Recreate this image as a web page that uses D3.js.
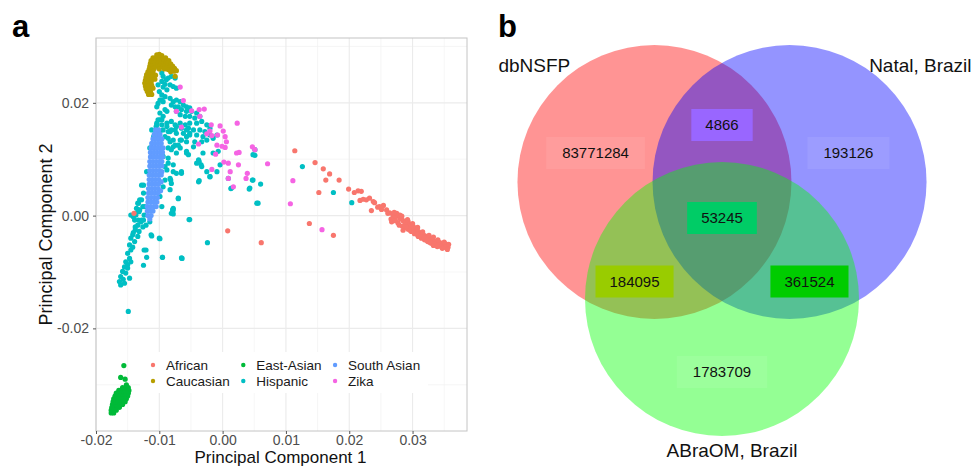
<!DOCTYPE html>
<html>
<head>
<meta charset="utf-8">
<script src="https://cdn.jsdelivr.net/npm/d3@7"></script>
<style>
  body { margin: 0; background: #fff; }
  svg { display: block; font-family: "Liberation Sans", Arial, Helvetica, sans-serif; }
</style>
</head>
<body>
<svg id="chart" width="974" height="467"></svg>
<script>
// ---------- panel a data (PC1, PC2) ----------
var groups = ["African", "Caucasian", "East-Asian", "Hispanic", "South Asian", "Zika"];
var groupColors = ["#F8766D", "#B79F00", "#00BA38", "#00BFC4", "#619CFF", "#F564E3"];
var xTicks = [-0.02, -0.01, 0.00, 0.01, 0.02, 0.03];
var xTickLabels = ["-0.02", "-0.01", "0.00", "0.01", "0.02", "0.03"];
var yTicks = [-0.02, 0.00, 0.02];
var yTickLabels = ["-0.02", "0.00", "0.02"];

var african = [
  [0.0114,0.0115],[0.0146,0.0094],[0.0159,0.0083],[0.0169,0.0074],[0.0184,0.0063],[0.0163,0.0063],
  [0.0152,0.0041],[0.0199,0.0047],[0.0137,-0.0014],[0.0175,-0.0035],[0.0008,-0.0027],[0.0061,-0.0048],
  [-0.0140,0.0004],
  [0.0208,0.0041],[0.0214,0.0044],[0.0219,0.0043],[0.0217,0.0027],[0.0222,0.0029],[0.0232,0.0031],
  [0.0238,0.0025],[0.0235,0.0009],[0.0245,0.0015],[0.0251,0.0011],[0.0254,0.0018],[0.0259,0.0010],
  [0.0264,0.0005],[0.0269,0.0001],[0.0267,-0.0011],[0.0274,-0.0001],[0.0280,-0.0005],[0.0277,-0.0013],
  [0.0285,-0.0009],[0.0290,-0.0012],[0.0288,-0.0019],[0.0285,-0.0026],[0.0295,-0.0016],[0.0293,-0.0024],
  [0.0301,-0.0019],[0.0298,-0.0028],[0.0306,-0.0025],[0.0303,-0.0032],[0.0311,-0.0030],[0.0309,-0.0037],
  [0.0317,-0.0034],[0.0314,-0.0040],[0.0322,-0.0037],[0.0319,-0.0043],[0.0327,-0.0040],[0.0324,-0.0046],
  [0.0332,-0.0043],[0.0330,-0.0049],[0.0338,-0.0046],[0.0340,-0.0050],[0.0345,-0.0049],[0.0348,-0.0052],
  [0.0352,-0.0050],[0.0354,-0.0054],[0.0356,-0.0056],
  [0.0282,-0.0006],[0.0288,-0.0013],[0.0293,-0.0010],[0.0298,-0.0016],[0.0303,-0.0022],[0.0309,-0.0028],
  [0.0314,-0.0032],[0.0319,-0.0036],[0.0324,-0.0040],[0.0330,-0.0043],[0.0335,-0.0046],[0.0343,-0.0048],
  [0.0349,-0.0052],[0.0353,-0.0056],[0.0298,-0.0022],[0.0305,-0.0028],[0.0311,-0.0034],[0.0321,-0.0040],
  [0.0327,-0.0046],[0.0334,-0.0050],[0.0343,-0.0054],[0.0351,-0.0056],
  [0.0261,0.0004],[0.0272,-0.0003],[0.0280,0.0001],[0.0248,0.0016],[0.0240,0.0023],[0.0227,0.0028],
  [0.0290,-0.0021],[0.0296,-0.0026],[0.0302,-0.0029],[0.0307,-0.0033],[0.0313,-0.0037],[0.0318,-0.0040],
  [0.0323,-0.0044],[0.0328,-0.0048],[0.0333,-0.0053],[0.0339,-0.0055],[0.0347,-0.0058],[0.0355,-0.0060],
  [0.0357,-0.0051],[0.0350,-0.0047],[0.0340,-0.0043],[0.0333,-0.0038],[0.0326,-0.0035],[0.0316,-0.0029],
  [0.0308,-0.0021],[0.0300,-0.0014],[0.0292,-0.0007],[0.0283,-0.0001],[0.0275,0.0004],[0.0266,-0.0006],
  [0.0273,-0.0009],[0.0279,-0.0017],[0.0284,-0.0019],[0.0271,0.0006]
];

var caucasian = [
  [-0.0104,0.0285],[-0.0100,0.0286],[-0.0096,0.0284],
  [-0.0110,0.0280],[-0.0106,0.0280],[-0.0102,0.0281],[-0.0098,0.0280],[-0.0094,0.0279],[-0.0090,0.0280],
  [-0.0113,0.0275],[-0.0109,0.0276],[-0.0105,0.0275],[-0.0101,0.0275],[-0.0097,0.0276],[-0.0093,0.0275],
  [-0.0089,0.0274],[-0.0085,0.0275],
  [-0.0114,0.0270],[-0.0110,0.0270],[-0.0106,0.0271],[-0.0102,0.0270],[-0.0098,0.0270],[-0.0094,0.0269],
  [-0.0090,0.0270],[-0.0086,0.0270],[-0.0082,0.0269],
  [-0.0115,0.0265],[-0.0111,0.0265],[-0.0107,0.0266],[-0.0103,0.0265],[-0.0099,0.0265],[-0.0095,0.0264],
  [-0.0091,0.0265],[-0.0087,0.0265],[-0.0083,0.0264],[-0.0079,0.0265],
  [-0.0116,0.0260],[-0.0112,0.0260],[-0.0108,0.0261],[-0.0100,0.0260],[-0.0092,0.0260],[-0.0086,0.0259],
  [-0.0080,0.0260],[-0.0076,0.0261],
  [-0.0118,0.0255],[-0.0114,0.0255],[-0.0110,0.0256],[-0.0082,0.0255],[-0.0077,0.0256],
  [-0.0120,0.0250],[-0.0115,0.0250],[-0.0110,0.0251],[-0.0106,0.0249],
  [-0.0121,0.0245],[-0.0116,0.0245],[-0.0111,0.0246],
  [-0.0122,0.0240],[-0.0117,0.0240],[-0.0112,0.0241],[-0.0107,0.0242],
  [-0.0123,0.0235],[-0.0118,0.0235],[-0.0113,0.0236],
  [-0.0122,0.0230],[-0.0117,0.0230],[-0.0112,0.0231],
  [-0.0121,0.0225],[-0.0116,0.0225],[-0.0110,0.0226],
  [-0.0119,0.0220],[-0.0114,0.0220],[-0.0117,0.0215],[-0.0112,0.0215],
  [-0.0073,0.0257],[-0.0075,0.0247]
];

var eastAsian = [
  [-0.0156,-0.0266],[-0.0161,-0.0287],[-0.0154,-0.0290],[-0.0152,-0.0300],
  [-0.0158,-0.0305],[-0.0153,-0.0305],[-0.0149,-0.0305],
  [-0.0164,-0.0310],[-0.0160,-0.0310],[-0.0156,-0.0310],[-0.0152,-0.0310],[-0.0148,-0.0310],
  [-0.0168,-0.0315],[-0.0164,-0.0315],[-0.0160,-0.0315],[-0.0156,-0.0315],[-0.0152,-0.0315],[-0.0149,-0.0315],
  [-0.0170,-0.0320],[-0.0166,-0.0320],[-0.0162,-0.0320],[-0.0158,-0.0320],[-0.0154,-0.0320],[-0.0150,-0.0320],
  [-0.0172,-0.0325],[-0.0168,-0.0325],[-0.0164,-0.0325],[-0.0160,-0.0325],[-0.0156,-0.0325],[-0.0152,-0.0325],
  [-0.0173,-0.0330],[-0.0169,-0.0330],[-0.0165,-0.0330],[-0.0161,-0.0330],[-0.0157,-0.0330],[-0.0154,-0.0330],
  [-0.0174,-0.0335],[-0.0170,-0.0335],[-0.0166,-0.0335],[-0.0162,-0.0335],[-0.0158,-0.0335],
  [-0.0175,-0.0340],[-0.0171,-0.0340],[-0.0167,-0.0340],[-0.0163,-0.0340],
  [-0.0176,-0.0345],[-0.0172,-0.0345],[-0.0168,-0.0345],[-0.0176,-0.0350],[-0.0172,-0.0350]
];

var hispanic = [
  // upper arc below the Caucasian cluster
  [-0.0096,0.0253],[-0.0094,0.0247],[-0.0089,0.0241],[-0.0086,0.0244],[-0.0081,0.0247],[-0.0075,0.0244],
  [-0.0096,0.0238],[-0.0091,0.0233],[-0.0083,0.0232],[-0.0078,0.0229],[-0.0073,0.0226],[-0.0088,0.0223],
  [-0.0096,0.0214],[-0.0091,0.0211],[-0.0099,0.0205],[-0.0102,0.0199],[-0.0094,0.0202],[-0.0083,0.0208],
  [-0.0078,0.0202],[-0.0073,0.0205],[-0.0067,0.0202],[-0.0081,0.0196],[-0.0075,0.0193],[-0.0070,0.0193],
  [-0.0062,0.0196],[-0.0057,0.0193],[-0.0052,0.0191],[-0.0065,0.0188],[-0.0057,0.0185],[-0.0049,0.0185],
  [-0.0041,0.0182],[-0.0073,0.0185],[-0.0067,0.0179],[-0.0059,0.0176],[-0.0052,0.0176],[-0.0044,0.0173],
  [-0.0036,0.0176],[-0.0088,0.0185],[-0.0094,0.0176],[-0.0099,0.0170],[-0.0104,0.0161],[-0.0096,0.0161],
  [-0.0088,0.0164],[-0.0081,0.0167],[-0.0075,0.0161],[-0.0067,0.0164],[-0.0059,0.0161],[-0.0052,0.0164],
  [-0.0041,0.0164],[-0.0033,0.0167],[-0.0025,0.0161],[-0.0020,0.0155],[-0.0054,0.0155],[-0.0046,0.0152],
  [-0.0036,0.0152],[-0.0028,0.0149],[-0.0094,0.0152],[-0.0102,0.0149],[-0.0083,0.0149],[-0.0073,0.0146],
  [-0.0062,0.0146],[-0.0052,0.0143],[-0.0041,0.0143],[-0.0031,0.0140],[-0.0020,0.0143],[-0.0086,0.0137],
  [-0.0078,0.0134],[-0.0067,0.0134],[-0.0057,0.0131],[-0.0044,0.0131],[-0.0033,0.0131],[-0.0025,0.0134],
  [-0.0015,0.0137],[-0.0009,0.0143],
  [-0.0102,0.0232],[-0.0100,0.0220],[-0.0094,0.0228],[-0.0096,0.0205],[-0.0104,0.0193],[-0.0099,0.0182],
  [-0.0091,0.0188],[-0.0102,0.0170],[-0.0105,0.0158],
  // around the top of the South Asian column
  [-0.0104,0.0164],[-0.0096,0.0170],[-0.0088,0.0158],[-0.0081,0.0152],[-0.0073,0.0158],[-0.0065,0.0155],
  [-0.0057,0.0152],[-0.0099,0.0149],[-0.0091,0.0140],[-0.0083,0.0131],[-0.0075,0.0125],[-0.0067,0.0120],
  [-0.0081,0.0117],[-0.0086,0.0102],[-0.0078,0.0090],[-0.0073,0.0075],[-0.0088,0.0081],[-0.0091,0.0063],
  [-0.0083,0.0046],[-0.0125,0.0054],[-0.0131,0.0028],[-0.0133,0.0010],[-0.0141,-0.0002],[-0.0128,-0.0008],
  [-0.0112,0.0152],[-0.0109,0.0140],[-0.0115,0.0120],
  // middle of the plot
  [-0.0086,0.0120],[-0.0078,0.0122],[-0.0070,0.0125],[-0.0065,0.0134],[-0.0057,0.0140],[-0.0073,0.0111],
  [-0.0057,0.0114],[-0.0054,0.0108],[-0.0046,0.0122],[-0.0031,0.0111],[-0.0015,0.0111],[-0.0007,0.0114],
  [-0.0041,0.0093],[-0.0038,0.0099],[-0.0033,0.0087],[-0.0025,0.0078],[-0.0009,0.0078],[-0.0065,0.0078],
  [-0.0078,0.0078],[-0.0083,0.0066],[-0.0081,0.0057],[-0.0086,0.0093],[-0.0038,0.0060],[-0.0020,0.0069],
  [-0.0120,0.0078],[-0.0128,0.0054],[-0.0125,0.0040],[-0.0128,0.0028],[-0.0133,0.0022],[-0.0136,0.0013],
  [-0.0138,0.0004],[-0.0131,0.0010],[-0.0123,0.0016],[-0.0125,-0.0008],[-0.0133,-0.0008],[-0.0138,-0.0020],
  [-0.0115,-0.0011],[-0.0070,0.0031],[-0.0078,0.0013],[-0.0081,0.0004],[-0.0052,-0.0007],[-0.0004,0.0090],
  [0.0014,0.0049],[0.0043,0.0049],[0.0048,0.0063],[0.0054,0.0022],[0.0048,0.0108],[0.0051,0.0117],
  [-0.0052,0.0146],[-0.0075,0.0152],[-0.0086,0.0149],
  [-0.0094,0.0105],[-0.0091,0.0087],[-0.0094,0.0051],[-0.0099,0.0034],[-0.0096,0.0016],
  [0.0051,0.0107],[0.0126,0.0087],[0.0175,0.0041],[0.0204,0.0023],[0.0060,0.0056],[0.0056,0.0022],
  [0.0042,0.0047],[0.0013,0.0048],[0.0009,0.0066],[0.0047,0.0063],[-0.0053,-0.0007],[-0.0024,-0.0048],
  [-0.0065,-0.0075],[-0.0095,-0.0074],[-0.0099,-0.0041],[-0.0112,-0.0036],[-0.0078,0.0010],[-0.0070,0.0030],
  [-0.0037,0.0062],[-0.0020,0.0069],[-0.0065,0.0075],[-0.0082,0.0063],[-0.0057,0.0111],[-0.0037,0.0096],
  [-0.0034,0.0090],
  // lower-left tail
  [-0.0134,0.0022],[-0.0126,0.0016],[-0.0132,0.0007],[-0.0124,0.0001],[-0.0137,0.0001],[-0.0139,-0.0008],
  [-0.0129,-0.0011],[-0.0134,-0.0017],[-0.0121,-0.0017],[-0.0138,-0.0025],[-0.0132,-0.0028],[-0.0142,-0.0034],
  [-0.0145,-0.0040],[-0.0134,-0.0037],[-0.0139,-0.0046],[-0.0147,-0.0052],[-0.0145,-0.0061],[-0.0150,-0.0067],
  [-0.0147,-0.0076],[-0.0153,-0.0082],[-0.0145,-0.0082],[-0.0155,-0.0091],[-0.0150,-0.0093],[-0.0158,-0.0099],
  [-0.0153,-0.0102],[-0.0161,-0.0108],[-0.0147,-0.0111],[-0.0163,-0.0117],[-0.0155,-0.0120],[-0.0161,-0.0123],
  [-0.0113,-0.0034],[-0.0100,-0.0040],[-0.0124,-0.0061],[-0.0121,-0.0061],[-0.0120,-0.0074],[-0.0125,-0.0088],
  [-0.0095,-0.0074],[-0.0064,-0.0076],[-0.0079,0.0010],[-0.0078,0.0003],[-0.0149,-0.0170],[-0.0145,0.0001],
  [-0.0126,-0.0020],[-0.0142,-0.0056],[-0.0150,-0.0087],[-0.0157,-0.0113],[-0.0141,-0.0030]
];

var southAsian = [
  [-0.0106,0.0152],[-0.0101,0.0152],
  [-0.0108,0.0144],[-0.0103,0.0144],[-0.0099,0.0144],
  [-0.0110,0.0136],[-0.0105,0.0136],[-0.0100,0.0136],[-0.0096,0.0136],
  [-0.0112,0.0128],[-0.0107,0.0128],[-0.0102,0.0128],[-0.0097,0.0128],
  [-0.0113,0.0120],[-0.0108,0.0120],[-0.0103,0.0120],[-0.0098,0.0120],[-0.0094,0.0120],
  [-0.0114,0.0112],[-0.0109,0.0112],[-0.0104,0.0112],[-0.0099,0.0112],[-0.0095,0.0112],
  [-0.0114,0.0104],[-0.0109,0.0104],[-0.0104,0.0104],[-0.0099,0.0104],[-0.0095,0.0104],
  [-0.0115,0.0096],[-0.0110,0.0096],[-0.0105,0.0096],[-0.0100,0.0096],[-0.0096,0.0096],
  [-0.0115,0.0088],[-0.0110,0.0088],[-0.0105,0.0088],[-0.0100,0.0088],[-0.0096,0.0088],
  [-0.0115,0.0080],[-0.0110,0.0080],[-0.0105,0.0080],[-0.0100,0.0080],[-0.0096,0.0078],
  [-0.0116,0.0072],[-0.0111,0.0072],[-0.0106,0.0072],[-0.0101,0.0072],[-0.0097,0.0072],
  [-0.0116,0.0064],[-0.0111,0.0064],[-0.0106,0.0064],[-0.0101,0.0064],[-0.0097,0.0060],
  [-0.0116,0.0056],[-0.0111,0.0056],[-0.0106,0.0056],[-0.0101,0.0056],
  [-0.0117,0.0048],[-0.0112,0.0048],[-0.0107,0.0048],[-0.0102,0.0048],[-0.0098,0.0044],
  [-0.0117,0.0040],[-0.0112,0.0040],[-0.0107,0.0040],[-0.0102,0.0040],
  [-0.0118,0.0032],[-0.0113,0.0032],[-0.0108,0.0032],[-0.0103,0.0032],
  [-0.0118,0.0024],[-0.0113,0.0024],[-0.0108,0.0024],[-0.0104,0.0024],
  [-0.0119,0.0016],[-0.0114,0.0016],[-0.0109,0.0016],[-0.0105,0.0016],
  [-0.0119,0.0008],[-0.0114,0.0008],[-0.0110,0.0008],
  [-0.0118,0.0000],[-0.0113,0.0000],[-0.0115,-0.0006]
];

var zika = [
  [-0.0067,0.0228],[-0.0062,0.0204],[-0.0073,0.0185],[-0.0049,0.0186],[-0.0037,0.0188],[-0.0029,0.0189],
  [-0.0036,0.0176],[-0.0065,0.0157],[0.0023,0.0164],[-0.0018,0.0161],[-0.0004,0.0159],[-0.0020,0.0150],
  [0.0001,0.0150],[-0.0008,0.0143],[0.0004,0.0140],[0.0006,0.0131],[-0.0025,0.0145],[-0.0017,0.0142],
  [-0.0001,0.0123],[0.0004,0.0121],[-0.0009,0.0125],[-0.0038,0.0127],[-0.0011,0.0109],[-0.0017,0.0082],
  [0.0002,0.0095],[0.0009,0.0093],[0.0012,0.0078],[0.0009,0.0066],[0.0017,0.0051],[0.0022,0.0111],
  [0.0026,0.0112],[0.0025,0.0090],[0.0037,0.0066],[0.0039,0.0075],[0.0047,0.0122],[0.0051,0.0117],
  [0.0071,0.0092],[0.0111,0.0062],[0.0107,0.0021],[0.0157,-0.0025]
];

var groupPoints = [african, caucasian, eastAsian, hispanic, southAsian, zika];
var drawOrder = [3, 1, 4, 5, 0, 2];

// ---------- panel b data (Venn) ----------
var setNames = ["dbNSFP", "Natal, Brazil", "ABraOM, Brazil"];
var setColors = ["#ff0000", "#0000ff", "#00ff00"];
var regionSets = [[0], [1], [2], [0, 1], [0, 2], [1, 2], [0, 1, 2]];
var regionCounts = [83771284, 193126, 1783709, 4866, 184095, 361524, 53245];
var regionBoxColors = ["#ffffff", "#ffffff", "#ffffff", "#9966ff", "#99cc00", "#00cc00", "#00cc66"];
var regionBoxOpacity = [0.08, 0.08, 0.08, 1, 1, 1, 1];

(function () {
  var svg = d3.select("#chart");

  // ================= panel a =================
  var pLeft = 96, pRight = 467, pTop = 38, pBottom = 431;
  var x = d3.scaleLinear().domain([-0.02, 0.0386]).range([pLeft, pRight]);
  var y = d3.scaleLinear().domain([-0.0382, 0.0315]).range([pBottom, pTop]);

  var pa = svg.append("g");

  var xMinor = xTicks.map(function (d) { return d + 0.005; }).filter(function (d) { return d < 0.0386; });
  var yMinor = [-0.03, -0.01, 0.01, 0.03];

  pa.selectAll(".xminor").data(xMinor).enter().append("line")
    .attr("x1", function (d) { return x(d); }).attr("x2", function (d) { return x(d); })
    .attr("y1", pTop).attr("y2", pBottom)
    .attr("stroke", "#f2f2f2").attr("stroke-width", 0.7);
  pa.selectAll(".yminor").data(yMinor).enter().append("line")
    .attr("y1", function (d) { return y(d); }).attr("y2", function (d) { return y(d); })
    .attr("x1", pLeft).attr("x2", pRight)
    .attr("stroke", "#f2f2f2").attr("stroke-width", 0.7);
  pa.selectAll(".xmajor").data(xTicks).enter().append("line")
    .attr("x1", function (d) { return x(d); }).attr("x2", function (d) { return x(d); })
    .attr("y1", pTop).attr("y2", pBottom)
    .attr("stroke", "#ebebeb").attr("stroke-width", 1.1);
  pa.selectAll(".ymajor").data(yTicks).enter().append("line")
    .attr("y1", function (d) { return y(d); }).attr("y2", function (d) { return y(d); })
    .attr("x1", pLeft).attr("x2", pRight)
    .attr("stroke", "#ebebeb").attr("stroke-width", 1.1);

  // legend box sits inside the panel, under the points
  var legendG = pa.append("g");
  legendG.append("rect").attr("x", 140).attr("y", 352).attr("width", 288).attr("height", 41).attr("fill", "#fff");

  // points
  drawOrder.forEach(function (gi) {
    pa.append("g").selectAll("circle").data(groupPoints[gi]).enter().append("circle")
      .attr("cx", function (d) { return x(d[0]); })
      .attr("cy", function (d) { return y(d[1]); })
      .attr("r", 2.6)
      .attr("fill", groupColors[gi]);
  });

  // legend entries (3 columns x 2 rows)
  var legFont = 13.5, colX = 153, rowY = [365, 381];
  for (var c = 0; c < 3; c++) {
    var maxW = 0;
    for (var r = 0; r < 2; r++) {
      var gi = c * 2 + r;
      legendG.append("circle").attr("cx", colX).attr("cy", rowY[r]).attr("r", 2.2).attr("fill", groupColors[gi]);
      var t = legendG.append("text").attr("x", colX + 13).attr("y", rowY[r]).attr("dy", "0.36em")
        .attr("font-size", legFont).attr("fill", "#1a1a1a").text(groups[gi]);
      maxW = Math.max(maxW, t.node().getComputedTextLength());
    }
    colX = colX + 13 + maxW + 13.5;
  }

  // border
  pa.append("rect").attr("x", pLeft).attr("y", pTop).attr("width", pRight - pLeft).attr("height", pBottom - pTop)
    .attr("fill", "none").attr("stroke", "#c4c4c4").attr("stroke-width", 1);

  // axes
  var xAxis = pa.append("g").attr("transform", "translate(0," + pBottom + ")")
    .call(d3.axisBottom(x).tickValues(xTicks).tickSize(3).tickPadding(1.5)
      .tickFormat(function (d, i) { return xTickLabels[i]; }));
  var yAxis = pa.append("g").attr("transform", "translate(" + pLeft + ",0)")
    .call(d3.axisLeft(y).tickValues(yTicks).tickSize(3).tickPadding(4)
      .tickFormat(function (d, i) { return yTickLabels[i]; }));
  [xAxis, yAxis].forEach(function (ax) {
    ax.select(".domain").remove();
    ax.selectAll(".tick line").attr("stroke", "#555");
    ax.selectAll(".tick text").attr("fill", "#4d4d4d").attr("font-size", 14)
      .attr("font-family", "'Liberation Sans', Arial, sans-serif");
  });

  pa.append("text").attr("x", (pLeft + pRight) / 2 - 1).attr("y", 463.3).attr("text-anchor", "middle")
    .attr("font-size", 17).attr("fill", "#111").text("Principal Component 1");
  pa.append("text").attr("transform", "translate(52," + (pTop + pBottom) / 2 + ") rotate(-90)")
    .attr("text-anchor", "middle").attr("font-size", 18).attr("fill", "#111").text("Principal Component 2");

  svg.append("text").attr("x", 12).attr("y", 37).attr("font-size", 31).attr("font-weight", "bold").text("a");

  // ================= panel b =================
  var pb = svg.append("g");
  var vennCx = 722, vennCy = 221, vennSpread = 78, vennR = 137;
  var angles = [-150, -30, 90];
  var centers = angles.map(function (a) {
    var rad = a * Math.PI / 180;
    return [vennCx + vennSpread * Math.cos(rad), vennCy + vennSpread * Math.sin(rad)];
  });

  pb.selectAll("circle").data(setNames).enter().append("circle")
    .attr("cx", function (d, i) { return centers[i][0]; })
    .attr("cy", function (d, i) { return centers[i][1]; })
    .attr("r", vennR)
    .attr("fill", function (d, i) { return setColors[i]; })
    .attr("fill-opacity", 0.42);

  function mean(idx) {
    var sx = 0, sy = 0;
    idx.forEach(function (k) { sx += centers[k][0]; sy += centers[k][1]; });
    return [sx / idx.length, sy / idx.length];
  }

  regionSets.forEach(function (s, i) {
    var pos = mean(s);
    if (s.length < 3) {
      var others = [0, 1, 2].filter(function (k) { return s.indexOf(k) < 0; });
      var m2 = mean(others);
      var dx = pos[0] - m2[0], dy = pos[1] - m2[1], len = Math.sqrt(dx * dx + dy * dy);
      var dist = s.length === 1 ? 68 : 62;
      pos = [pos[0] + dx / len * dist, pos[1] + dy / len * dist + 5];
      if (s.length === 2 && s.indexOf(2) >= 0) pos[1] += 5;
    } else {
      pos = [pos[0], pos[1] - 3];
    }
    var g = pb.append("g");
    var t = g.append("text").attr("x", pos[0]).attr("y", pos[1]).attr("dy", "0.36em")
      .attr("text-anchor", "middle").attr("font-size", 15).attr("fill", "#111")
      .text(regionCounts[i]);
    var w = t.node().getComputedTextLength() + (s.length === 1 ? 32 : 28);
    g.insert("rect", "text").attr("x", pos[0] - w / 2).attr("y", pos[1] - 16).attr("width", w).attr("height", 32)
      .attr("fill", regionBoxColors[i]).attr("fill-opacity", regionBoxOpacity[i]);
  });

  pb.append("text").attr("x", centers[0][0] - vennR - 19).attr("y", 72).attr("font-size", 19).attr("fill", "#111").text(setNames[0]);
  pb.append("text").attr("x", centers[1][0] + vennR + 45).attr("y", 72).attr("text-anchor", "end").attr("font-size", 19).attr("fill", "#111").text(setNames[1]);
  pb.append("text").attr("x", centers[2][0] + 10).attr("y", centers[2][1] + vennR + 21).attr("text-anchor", "middle").attr("font-size", 19).attr("fill", "#111").text(setNames[2]);

  svg.append("text").attr("x", 498).attr("y", 37).attr("font-size", 31).attr("font-weight", "bold").text("b");
})();
</script>
</body>
</html>
